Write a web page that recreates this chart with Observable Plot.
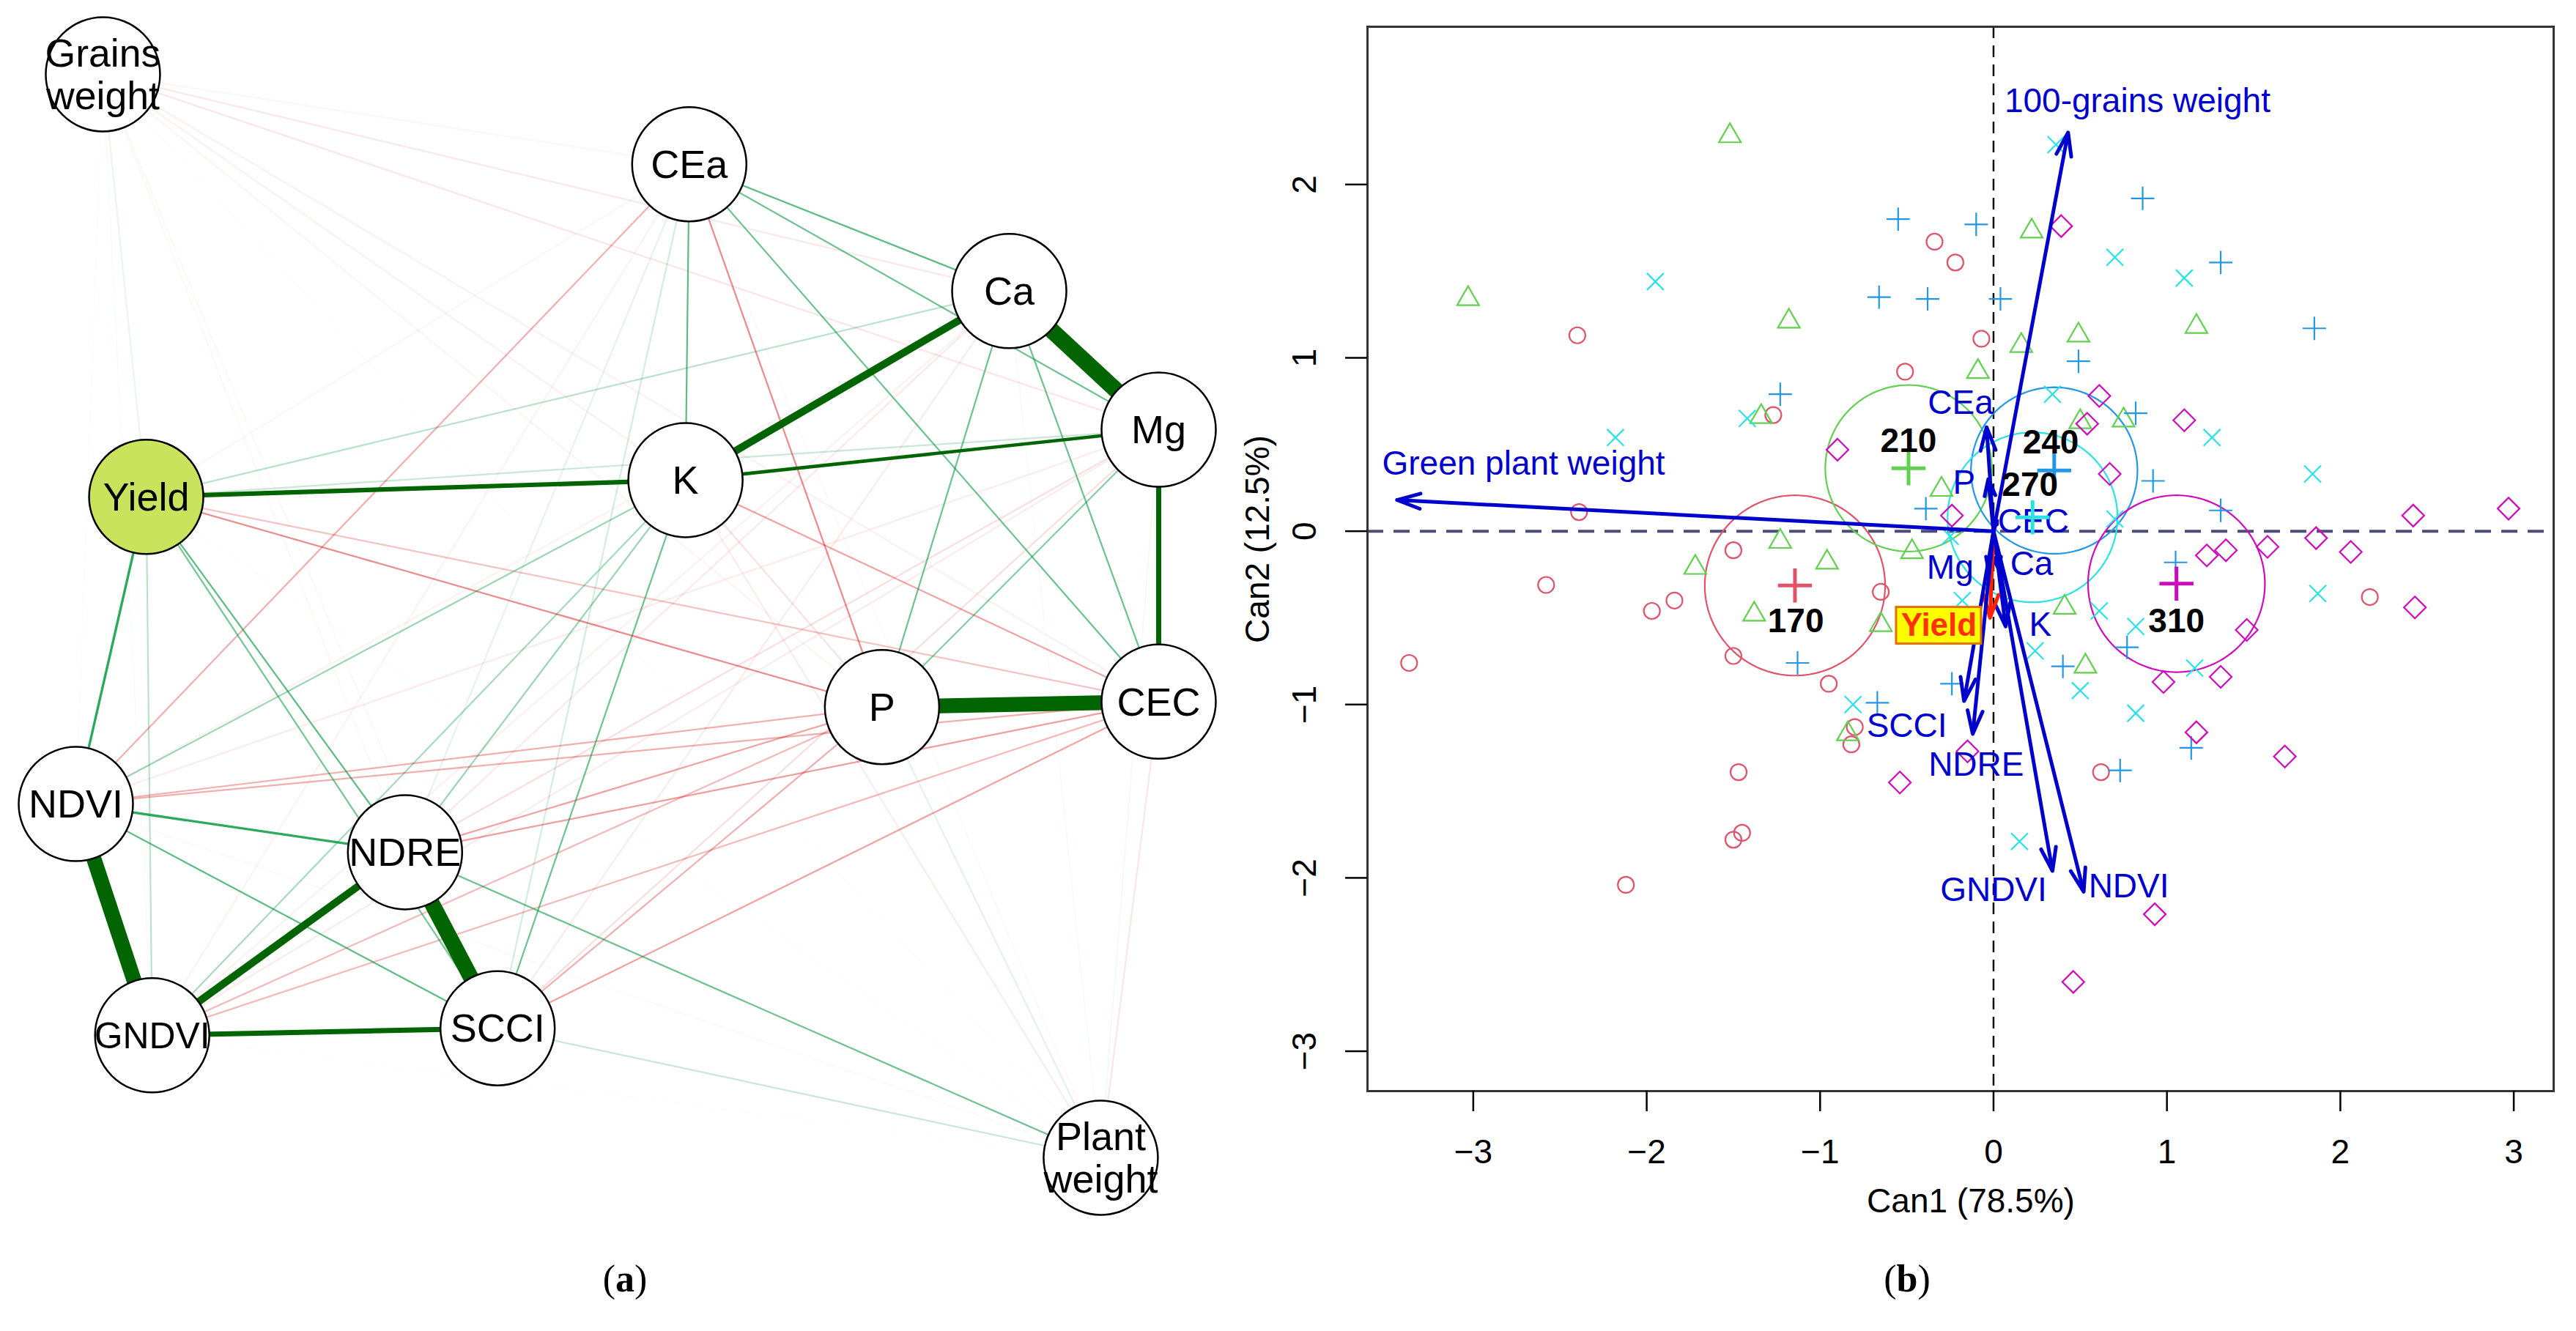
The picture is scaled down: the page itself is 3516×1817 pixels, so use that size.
<!DOCTYPE html>
<html><head><meta charset="utf-8">
<script src="https://cdn.jsdelivr.net/npm/d3@7"></script>
<script src="https://cdn.jsdelivr.net/npm/@observablehq/plot@0.6"></script>
<style>
html,body{margin:0;padding:0;background:#fff;}
#page{position:relative;width:3516px;height:1817px;overflow:hidden;background:#fff;}
.panel{position:absolute;top:0;}
.cap{position:absolute;font-family:"Liberation Serif","DejaVu Serif",serif;font-size:52px;transform:translate(-50%,-50%);line-height:1;color:#000;}
</style></head>
<body>
<div id="page">
  <div id="pa" class="panel" style="left:0px"></div>
  <div id="pb" class="panel" style="left:1690px"></div>
  <div class="cap" style="left:853px;top:1746px">(<b>a</b>)</div>
  <div class="cap" style="left:2603px;top:1746px">(<b>b</b>)</div>
</div>
<script>
// ---------------- Panel (a): correlation network ----------------
const nodeNames = ["Grains weight","CEa","Ca","Mg","K","Yield","P","CEC","NDVI","NDRE","GNDVI","SCCI","Plant weight"];
const nodeX = [-0.95, 0.133, 0.724, 1.0, 0.126, -0.87, 0.489, 1.0, -1.0, -0.392, -0.859, -0.221, 0.893];
const nodeY = [1.0, 0.834, 0.6, 0.344, 0.251, 0.22, -0.168, -0.158, -0.347, -0.436, -0.774, -0.761, -1.0];

const edgeFrom = [
 "Grains weight","Grains weight","Grains weight","Grains weight","Grains weight","Grains weight","Grains weight","Grains weight","Grains weight","Grains weight","Grains weight","Grains weight",
 "CEa","CEa","CEa","CEa","CEa","CEa","CEa","CEa","CEa","CEa","CEa",
 "Ca","Ca","Ca","Ca","Ca","Ca","Ca","Ca","Ca","Ca",
 "Mg","Mg","Mg","Mg","Mg","Mg","Mg","Mg","Mg",
 "K","K","K","K","K","K","K","K",
 "Yield","Yield","Yield","Yield","Yield","Yield","Yield",
 "P","P","P","P","P","P",
 "CEC","CEC","CEC","CEC","CEC",
 "NDVI","NDVI","NDVI","NDVI",
 "NDRE","NDRE","NDRE",
 "GNDVI","GNDVI",
 "SCCI"];
const edgeTo = [
 "CEa","Ca","Mg","K","Yield","P","CEC","NDVI","NDRE","GNDVI","SCCI","Plant weight",
 "Ca","Mg","K","Yield","P","CEC","NDVI","NDRE","GNDVI","SCCI","Plant weight",
 "Mg","K","Yield","P","CEC","NDVI","NDRE","GNDVI","SCCI","Plant weight",
 "K","Yield","P","CEC","NDVI","NDRE","GNDVI","SCCI","Plant weight",
 "Yield","P","CEC","NDVI","NDRE","GNDVI","SCCI","Plant weight",
 "P","CEC","NDVI","NDRE","GNDVI","SCCI","Plant weight",
 "CEC","NDVI","NDRE","GNDVI","SCCI","Plant weight",
 "NDVI","NDRE","GNDVI","SCCI","Plant weight",
 "NDRE","GNDVI","SCCI","Plant weight",
 "GNDVI","SCCI","Plant weight",
 "SCCI","Plant weight",
 "Plant weight"];
const edgeR = [
 -0.10,-0.16,-0.17,-0.13,0.14,-0.11,-0.13,0.05,-0.09,0.07,-0.09,0.05,
 0.38,0.36,0.38,0.10,-0.36,0.36,-0.30,0.15,-0.12,0.20,-0.08,
 0.90,0.60,0.25,0.36,0.36,-0.12,-0.16,-0.13,-0.15,0.08,
 0.46,0.22,0.33,0.52,-0.15,-0.19,-0.15,-0.19,0.10,
 0.50,-0.18,-0.32,0.30,0.30,0.28,0.36,-0.15,
 -0.36,-0.26,0.43,0.38,0.25,0.35,0.05,
 0.85,-0.30,-0.32,-0.28,-0.30,0.16,
 -0.30,-0.33,-0.28,-0.32,-0.17,
 0.43,0.86,0.38,0.08,
 0.60,0.88,0.36,
 0.52,0.05,
 0.22];

// label font size chosen so each node label fits its circle (like qgraph label scaling)
const measureCtx = document.createElement("canvas").getContext("2d");
measureCtx.font = '100px "Liberation Sans", Arial, sans-serif';
function fitSize(label) {
  const w = Math.max(...label.split("\n").map(s => measureCtx.measureText(s).width)) / 100;
  return Math.min(54, 158 / w);
}

const nodes = nodeNames.map((name, i) => {
  const label = name.replace(" ", "\n");
  return {name, x: nodeX[i], y: nodeY[i], label, fs: fitSize(label)};
});
const byName = new Map(nodes.map(d => [d.name, d]));
const edges = edgeFrom.map((f, i) => ({a: byName.get(f), b: byName.get(edgeTo[i]), r: edgeR[i]}))
  .sort((p, q) => Math.abs(p.r) - Math.abs(q.r));

function edgeColor(r) {
  const a = Math.abs(r);
  if (a >= 0.45) return r > 0 ? "#006400" : "#B00000";
  const al = (Math.pow(a / 0.45, 2) * (r > 0 ? 0.9 : 0.75)).toFixed(3);
  return r > 0 ? `rgba(0,150,60,${al})` : `rgba(215,10,10,${al})`;
}
function edgeWidth(r) {
  const a = Math.abs(r);
  return a < 0.4 ? 2.2 : 2.2 + (a - 0.4) * 40;
}

const plotA = Plot.plot({
  width: 1760, height: 1700, margin: 0,
  x: {domain: [-1, 1], range: [103, 1581], axis: null},
  y: {domain: [-1, 1], range: [1580, 101], axis: null},
  style: {fontFamily: "Liberation Sans, Arial, sans-serif", background: "transparent", overflow: "visible"},
  marks: [
    Plot.link(edges, {x1: d => d.a.x, y1: d => d.a.y, x2: d => d.b.x, y2: d => d.b.y,
      stroke: d => edgeColor(d.r), strokeWidth: d => edgeWidth(d.r)}),
    Plot.dot(nodes, {x: "x", y: "y", r: 78, fill: d => d.name === "Yield" ? "#C9E35C" : "#FFFFFF", stroke: "#000000", strokeWidth: 2.5}),
    Plot.text(nodes, {x: "x", y: "y", text: "label", fontSize: "fs", lineHeight: 1.08, fill: "#000000"})
  ]
});
document.getElementById("pa").appendChild(plotA);

// ---------------- Panel (b): canonical discriminant plot ----------------
const groups = ["170", "210", "240", "270", "310"];
const groupColors = ["#DF536B", "#61D04F", "#2297E6", "#28E2E5", "#CD0BBC"];
const groupSymbols = ["circle", "triangle2", "plus", "times", "diamond2"];
const groupSymbolR = [11, 14.3, 10.3, 10.5, 13.5];

const can1_170 = [-3.37,-2.58,-2.40,-2.39,-2.12,-1.97,-1.84,-1.50,-1.50,-1.47,-1.45,-1.50,-1.27,-0.95,-0.80,-0.82,-0.65,-0.51,-0.34,-0.22,-0.07,0.62,2.17];
const can2_170 = [-0.76,-0.31,1.13,0.11,-2.04,-0.46,-0.40,-0.11,-0.72,-1.39,-1.74,-1.78,0.67,-0.88,-1.13,-1.23,-0.35,0.92,1.67,1.55,1.11,-1.39,-0.38];
const can1_210 = [-3.03,-1.52,-1.18,-1.34,-1.23,-1.72,-0.96,-1.38,-0.65,-0.84,0.22,0.16,0.49,-0.09,1.17,0.75,0.50,-0.30,-0.47,0.41,0.53];
const can2_210 = [1.34,2.28,1.21,0.66,-0.06,-0.21,-0.18,-0.48,-0.54,-1.17,1.73,1.07,1.13,0.92,1.18,0.64,0.63,0.24,-0.12,-0.44,-0.78];
const can1_240 = [-0.55,-0.10,-0.66,-0.38,0.04,0.86,1.31,1.85,0.49,-1.23,0.82,0.92,1.31,-0.39,1.05,-1.13,-0.67,-0.24,0.40,0.77,0.73,1.14];
const can2_240 = [1.80,1.77,1.35,1.34,1.34,1.92,1.55,1.17,0.98,0.79,0.68,0.29,0.12,0.13,-0.18,-0.76,-0.99,-0.88,-0.78,-0.67,-1.38,-1.25];
const can1_270 = [-1.95,-2.18,-1.42,0.36,0.70,1.10,0.34,1.26,1.84,0.70,1.87,0.61,0.82,1.16,0.24,0.50,0.82,0.15,-0.81,-0.18,-0.25];
const can2_270 = [1.44,0.54,0.65,2.23,1.58,1.46,0.79,0.54,0.33,0.07,-0.36,-0.46,-0.55,-0.79,-0.69,-0.92,-1.05,-1.79,-1.00,-0.40,-0.03];
const can1_310 = [0.39,-0.90,0.61,0.54,1.10,0.67,-0.24,2.42,2.97,1.58,1.86,2.06,1.23,1.34,1.46,2.43,0.98,1.31,1.17,0.93,0.46,1.68,-0.54,-0.15];
const can2_310 = [1.76,0.47,0.78,0.62,0.64,0.33,0.09,0.09,0.13,-0.09,-0.04,-0.12,-0.14,-0.11,-0.57,-0.44,-0.87,-0.84,-1.16,-2.21,-2.60,-1.30,-1.45,-1.27];

const meanCan1 = [-1.145, -0.49, 0.35, 0.225, 1.055];
const meanCan2 = [-0.313, 0.363, 0.35, 0.08, -0.303];
const circleRadius = [0.52, 0.48, 0.48, 0.49, 0.51];
const groupLabelCan1 = [-1.14, -0.49, 0.33, 0.21, 1.055];
const groupLabelCan2 = [-0.52, 0.52, 0.51, 0.265, -0.52];

const vecNames = ["100-grains weight","Green plant weight","CEa","P","CEC","Mg","Ca","K","Yield","SCCI","NDRE","GNDVI","NDVI"];
const vecCan1 = [0.43, -3.44, -0.04, -0.03, 0.02, -0.03, 0.03, 0.07, -0.02, -0.17, -0.12, 0.34, 0.52];
const vecCan2 = [2.30, 0.18, 0.60, 0.30, 0.06, -0.22, -0.22, -0.55, -0.50, -0.98, -1.17, -1.96, -2.08];
const vecLabelCan1 = [0.83, -2.71, -0.19, -0.17, 0.23, -0.25, 0.22, 0.27, -0.315, -0.50, -0.10, 0.0, 0.78];
const vecLabelCan2 = [2.48, 0.39, 0.74, 0.28, 0.056, -0.21, -0.19, -0.54, -0.545, -1.125, -1.35, -2.07, -2.05];

const xTicks = [-3, -2, -1, 0, 1, 2, 3];
const yTicks = [-3, -2, -1, 0, 1, 2];

const scores = [[can1_170, can2_170], [can1_210, can2_210], [can1_240, can2_240], [can1_270, can2_270], [can1_310, can2_310]]
  .map(([xs, ys]) => xs.map((x, i) => ({x, y: ys[i]})));

const means = groups.map((g, i) => ({g, x: meanCan1[i], y: meanCan2[i], lx: groupLabelCan1[i], ly: groupLabelCan2[i], c: groupColors[i]}));
const circleData = [];
groups.forEach((g, i) => {
  for (let k = 0; k <= 160; k++) {
    const t = 2 * Math.PI * k / 160;
    circleData.push({g, c: groupColors[i], x: meanCan1[i] + circleRadius[i] * Math.cos(t), y: meanCan2[i] + circleRadius[i] * Math.sin(t)});
  }
});
const vectors = vecNames.map((name, i) => ({name, x: vecCan1[i], y: vecCan2[i], lx: vecLabelCan1[i], ly: vecLabelCan2[i]}));
const fmt = d => d < 0 ? "\u2212" + Math.abs(d) : String(d);

const pointMarks = scores.map((pts, i) => Plot.dot(pts, {
  x: "x", y: "y", symbol: groupSymbols[i], r: groupSymbolR[i],
  stroke: groupColors[i], fill: "none", strokeWidth: 2.2
}));

const plotB = Plot.plot({
  width: 1826, height: 1700,
  marginLeft: 176, marginRight: 31, marginTop: 36, marginBottom: 211,
  x: {domain: [-3.61, 3.23]},
  y: {domain: [-3.23, 2.91]},
  style: {fontFamily: "Liberation Sans, Arial, sans-serif", fontSize: "46px", background: "transparent", overflow: "visible"},
  marks: [
    Plot.ruleY([0], {stroke: "#4d4d7a", strokeWidth: 4, strokeDasharray: "22,14"}),
    Plot.ruleX([0], {stroke: "#111111", strokeWidth: 2.5, strokeDasharray: "16,10"}),
    Plot.line(circleData, {x: "x", y: "y", z: "g", stroke: "c", strokeWidth: 2.2}),
    ...pointMarks,
    Plot.arrow(vectors, {x1: () => 0, y1: () => 0, x2: "x", y2: "y",
      stroke: d => d.name === "Yield" ? "#FF2200" : "#0000CD", strokeWidth: 5, headLength: 10, headAngle: 36}),
    Plot.rect(vectors.filter(d => d.name === "Yield"), {x1: "lx", x2: "lx", y1: "ly", y2: "ly",
      insetLeft: -58, insetRight: -58, insetTop: -25, insetBottom: -25,
      fill: "#FFFF00", stroke: "#E07000", strokeWidth: 3}),
    Plot.text(vectors.filter(d => d.name !== "Yield"), {x: "lx", y: "ly", text: "name", fill: "#0000CD", fontSize: 46}),
    Plot.text(vectors.filter(d => d.name === "Yield"), {x: "lx", y: "ly", text: "name", fill: "#FF3300", fontSize: 44, fontWeight: "bold"}),
    Plot.dot(means, {x: "x", y: "y", symbol: "plus", r: 15, stroke: "c", strokeWidth: 5}),
    Plot.text(means, {x: "lx", y: "ly", text: "g", fontWeight: "bold", fontSize: 46, fill: "#000000"}),
    Plot.frame({stroke: "#333333", strokeWidth: 3}),
    Plot.axisX({ticks: xTicks, tickSize: 28, tickFormat: () => "", label: null, strokeWidth: 2.5}),
    Plot.axisY({ticks: yTicks, tickSize: 30, tickFormat: () => "", label: null, strokeWidth: 2.5}),
    Plot.text(xTicks, {x: d => d, frameAnchor: "bottom", dy: 84, text: fmt, lineAnchor: "middle", textAnchor: "middle", fontSize: 46, fill: "#000"}),
    Plot.text(yTicks, {y: d => d, frameAnchor: "left", dx: -85, rotate: -90, text: fmt, lineAnchor: "middle", textAnchor: "middle", fontSize: 46, fill: "#000"}),
    Plot.text(["Can1 (78.5%)"], {frameAnchor: "bottom", dy: 151, dx: 14, lineAnchor: "middle", textAnchor: "middle", fontSize: 46, fill: "#000"}),
    Plot.text(["Can2 (12.5%)"], {frameAnchor: "left", dx: -149, dy: -27, rotate: -90, lineAnchor: "middle", textAnchor: "middle", fontSize: 46, fill: "#000"})
  ]
});
document.getElementById("pb").appendChild(plotB);
</script>
</body></html>
